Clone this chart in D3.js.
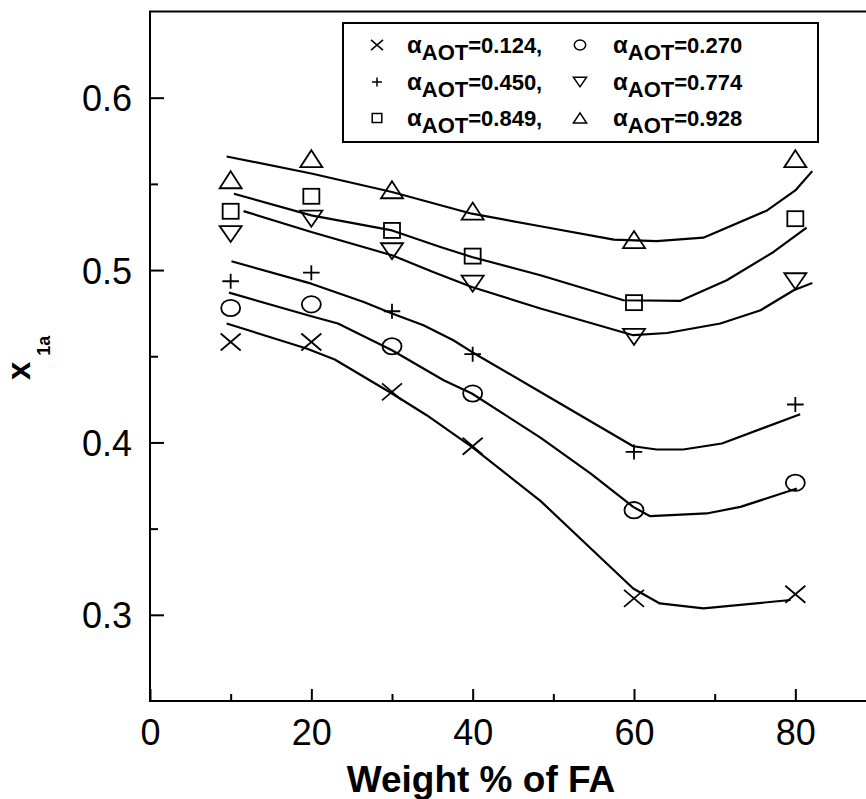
<!DOCTYPE html>
<html><head><meta charset="utf-8">
<script src="https://cdn.jsdelivr.net/npm/d3@7"></script>
<style>
html,body{margin:0;padding:0;background:#fff;}
svg{display:block;}
text{font-family:"Liberation Sans",Arial,Helvetica,sans-serif;fill:#000;}
</style></head>
<body>
<svg id="chart" width="866" height="799"></svg>
<script>
// ---- data ----
const xPositions = [10, 20, 30, 40, 60, 80];
const seriesNames = ["0.124", "0.270", "0.450", "0.774", "0.849", "0.928"];
const seriesSymbols = ["cross", "circle", "plus", "down", "square", "up"];
const pts124 = [0.4583, 0.4583, 0.4293, 0.3978, 0.3095, 0.3119];
const pts270 = [0.4780, 0.4801, 0.4558, 0.4284, 0.3607, 0.3766];
const pts450 = [0.4935, 0.4985, 0.4761, 0.4512, 0.3945, 0.4220];
const pts774 = [0.5209, 0.5298, 0.5109, 0.4921, 0.4612, 0.4935];
const pts849 = [0.5341, 0.5428, 0.5230, 0.5081, 0.4811, 0.5298];
const pts928 = [0.5524, 0.5646, 0.5466, 0.5342, 0.5177, 0.5646];

// fitted curves, [x, y] pairs
const fit124 = [[9.5,0.4690],[19.4,0.4545],[22.9,0.4481],[30,0.4284],[34.3,0.4158],[39.9,0.3974],[48.4,0.3661],[59.9,0.3153],[63.2,0.3066],[68.6,0.3037],[79.4,0.3086]];
const fit270 = [[9.8,0.4869],[20,0.4732],[23.3,0.4690],[30,0.4535],[36.4,0.4361],[39.9,0.4284],[48.4,0.4028],[54.6,0.3820],[59.9,0.3626],[62,0.3572],[69,0.3588],[73.2,0.3626],[80.2,0.3733]];
const fit450 = [[10.1,0.5051],[20,0.4921],[26.5,0.4815],[30,0.4748],[33.9,0.4680],[37.6,0.4593],[39.9,0.4525],[48.4,0.4293],[59.9,0.3978],[62.8,0.3959],[66.1,0.3959],[70.9,0.3994],[80.6,0.4164]];
const fit774 = [[11.6,0.5342],[20,0.5221],[30,0.5086],[35.1,0.4989],[39.9,0.4902],[48.4,0.4777],[59.9,0.4622],[64.1,0.4635],[70.7,0.4690],[75.7,0.4767],[79.8,0.4883],[82.1,0.4925]];
const fit849 = [[10.4,0.5443],[20,0.5317],[30,0.5230],[36,0.5134],[39.9,0.5076],[48.4,0.4970],[58.7,0.4825],[65.7,0.4821],[71.5,0.4941],[77.3,0.5105],[81.4,0.5246]];
const fit928 = [[9.5,0.5659],[20,0.5560],[30,0.5453],[39.9,0.5327],[48.4,0.5254],[57.5,0.5177],[62.8,0.5168],[68.6,0.5188],[76.5,0.5346],[80,0.5462],[82.1,0.5574]];

const xTicksMajor = [0, 20, 40, 60, 80];
const xTicksMinor = [10, 30, 50, 70];
const yTicksMajor = [0.3, 0.4, 0.5, 0.6];
const yTicksMinor = [0.35, 0.45, 0.55];
const xTitle = "Weight % of FA";
const yTitleMain = "x";
const yTitleSub = "1a";
const legendPrefix = "α";
const legendSub = "AOT";

const seriesPts = [pts124, pts270, pts450, pts774, pts849, pts928];
const seriesFits = [fit124, fit270, fit450, fit774, fit849, fit928];

// ---- layout ----
const svg = d3.select("#chart");
const L = 150, R = 876, T = 11.5, B = 701;
const x = d3.scaleLinear().domain([0, 90]).range([L, R]);
const y = d3.scaleLinear().domain([0.25, 0.65]).range([B, T]);

// frame
svg.append("rect").attr("x", L).attr("y", T).attr("width", R - L).attr("height", B - T)
  .attr("fill", "none").attr("stroke", "#000").attr("stroke-width", 2);

// axes (ticks inward)
const xAxis = svg.append("g").attr("transform", `translate(0,${B})`)
  .call(d3.axisBottom(x).tickValues(xTicksMajor).tickSize(-12).tickPadding(18).tickFormat(d3.format("d")));
const xAxisMinor = svg.append("g").attr("transform", `translate(0,${B})`)
  .call(d3.axisBottom(x).tickValues(xTicksMinor).tickSize(-7).tickFormat(""));
const yAxis = svg.append("g").attr("transform", `translate(${L},0)`)
  .call(d3.axisLeft(y).tickValues(yTicksMajor).tickSize(-14).tickPadding(18).tickFormat(d3.format(".1f")));
const yAxisMinor = svg.append("g").attr("transform", `translate(${L},0)`)
  .call(d3.axisLeft(y).tickValues(yTicksMinor).tickSize(-8).tickFormat(""));
[xAxis, xAxisMinor, yAxis, yAxisMinor].forEach(g => {
  g.select(".domain").remove();
  g.selectAll(".tick line").attr("stroke", "#000").attr("stroke-width", 2);
  g.selectAll("text").attr("font-size", 36).attr("font-family", '"Liberation Sans", Arial, sans-serif').attr("fill", "#000");
});
xAxis.selectAll("text").attr("dy", "0.71em");
yAxis.selectAll("text").attr("dy", "0.36em");

// titles
svg.append("text").attr("x", 481).attr("y", 792).attr("text-anchor", "middle")
  .attr("font-size", 37).attr("font-weight", "bold").text(xTitle);
const yt = svg.append("text").attr("transform", "translate(30,380) rotate(-90)")
  .attr("font-weight", "bold");
yt.append("tspan").attr("font-size", 33).text(yTitleMain);
yt.append("tspan").attr("font-size", 18).attr("dx", 6).attr("dy", 20).text(yTitleSub);

// symbol drawing
function drawSymbol(g, type, cx, cy, s) {
  let el;
  if (type === "cross") {
    const w = 10 * s, h = 8.5 * s;
    el = g.append("path").attr("d", `M${cx-w},${cy-h}L${cx+w},${cy+h}M${cx-w},${cy+h}L${cx+w},${cy-h}`);
  } else if (type === "plus") {
    const w = 8.3 * s, h = 7.5 * s;
    el = g.append("path").attr("d", `M${cx-w},${cy}L${cx+w},${cy}M${cx},${cy-h}L${cx},${cy+h}`);
  } else if (type === "circle") {
    el = g.append("ellipse").attr("cx", cx).attr("cy", cy).attr("rx", 9.5 * s).attr("ry", 8.2 * s);
  } else if (type === "square") {
    const w = 8 * s, h = 7.5 * s;
    el = g.append("rect").attr("x", cx - w).attr("y", cy - h).attr("width", 2 * w).attr("height", 2 * h);
  } else if (type === "up") {
    const w = 11 * s, h = 8.5 * s;
    el = g.append("path").attr("d", `M${cx},${cy-h}L${cx+w},${cy+h}L${cx-w},${cy+h}Z`);
  } else if (type === "down") {
    const w = 11 * s, h = 8 * s;
    el = g.append("path").attr("d", `M${cx-w},${cy-h}L${cx+w},${cy-h}L${cx},${cy+h}Z`);
  }
  el.attr("fill", "none").attr("stroke", "#000").attr("stroke-width", s < 1 ? 1.5 : 1.8);
}

// fitted lines
const line = d3.line().x(d => x(d[0])).y(d => y(d[1]));
const gl = svg.append("g");
seriesFits.forEach(f => {
  gl.append("path").attr("d", line(f)).attr("fill", "none").attr("stroke", "#000")
    .attr("stroke-width", 2.2).attr("stroke-linejoin", "round");
});

// markers
const gm = svg.append("g");
seriesPts.forEach((vals, i) => {
  vals.forEach((v, j) => drawSymbol(gm, seriesSymbols[i], x(xPositions[j]), y(v), 1));
});

// legend
const lg = svg.append("g");
lg.append("rect").attr("x", 343).attr("y", 23).attr("width", 475).attr("height", 119)
  .attr("fill", "#fff").attr("stroke", "#000").attr("stroke-width", 2);
const colSym = [377, 580], colText = [407, 613], rowBase = [53, 90, 126];
seriesNames.forEach((name, i) => {
  const col = i % 2, row = Math.floor(i / 2);
  drawSymbol(lg, seriesSymbols[i], colSym[col], rowBase[row] - 8, 0.6);
  const t = lg.append("text").attr("x", colText[col]).attr("y", rowBase[row]).attr("font-weight", "bold");
  t.append("tspan").attr("font-size", 24).text(legendPrefix);
  t.append("tspan").attr("font-size", 22).attr("dy", 7).text(legendSub);
  t.append("tspan").attr("font-size", 22).attr("dy", -7).text("=" + name + (col === 0 ? "," : ""));
});
</script>
</body></html>
